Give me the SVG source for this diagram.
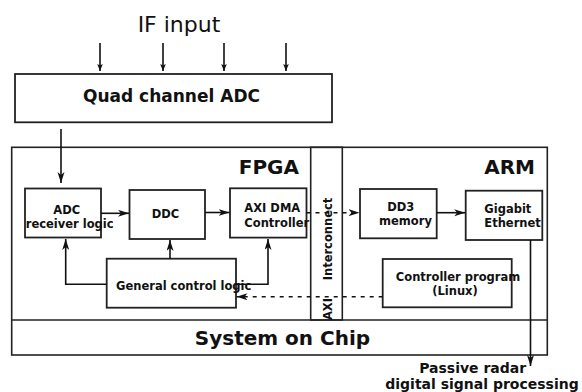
<svg xmlns="http://www.w3.org/2000/svg" width="582" height="392" viewBox="0 0 582 392">
<style>
.box{fill:#fff;stroke:#222;stroke-width:1.8}
.frame{fill:none;stroke:#222;stroke-width:1.6}
.t{font-family:"DejaVu Sans",Verdana,sans-serif;font-weight:bold;fill:#111}
.lbl{font-size:11.5px}
.ln{fill:none;stroke:#111;stroke-width:1.6}
.dash{stroke-dasharray:4 5}
</style>
<defs>
<marker id="ah" markerUnits="userSpaceOnUse" markerWidth="12" markerHeight="8" refX="11" refY="3.5" orient="auto">
<path d="M0,0 L11,3.5 L0,7 L3,3.5 Z" fill="#111"/>
</marker>
<marker id="ahs" markerUnits="userSpaceOnUse" markerWidth="8" markerHeight="8" refX="7" refY="2.8" orient="auto">
<path d="M0,0 L7,2.8 L0,5.6 L1.5,2.8 Z" fill="#111"/>
</marker>
</defs>
<rect width="582" height="392" fill="#fff"/>

<text x="179" y="32" font-family="DejaVu Sans,Verdana,sans-serif" font-size="22" text-anchor="middle" fill="#111">IF input</text>

<g id="soc">
<rect class="frame" x="11.7" y="147.3" width="535.6" height="207.7"/>
<line class="frame" x1="11.7" y1="320" x2="547.3" y2="320"/>
<text class="t" x="282.5" y="345" font-size="20" text-anchor="middle">System on Chip</text>
<text class="t" x="299" y="174" font-size="20" text-anchor="end">FPGA</text>
<text class="t" x="535" y="174" font-size="20" text-anchor="end">ARM</text>
</g>

<g id="axi">
<rect class="frame" x="310.7" y="147.3" width="31.6" height="172.7"/>
<text class="t lbl" transform="translate(331.5,239) rotate(-90)" text-anchor="middle">Interconnect</text>
<text class="t lbl" transform="translate(331.5,298) rotate(-90)" text-anchor="end">AXI</text>
</g>

<g id="quad">
<rect class="box" x="15" y="74" width="317" height="48.3"/>
<text class="t" x="171.5" y="102" font-size="17" text-anchor="middle">Quad channel ADC</text>
</g>

<g id="adcrx">
<rect class="box" x="25" y="188.5" width="76" height="49"/>
<text class="t lbl" x="66.7" y="214.3" text-anchor="middle">ADC</text>
<text class="t lbl" x="69.7" y="228.3" text-anchor="middle">receiver logic</text>
</g>

<g id="ddc">
<rect class="box" x="129.5" y="190" width="75.5" height="49"/>
<text class="t lbl" x="165.5" y="218.3" text-anchor="middle">DDC</text>
</g>

<g id="axidma">
<rect class="box" x="230" y="188.3" width="76.5" height="49.3"/>
<text class="t lbl" x="244.3" y="212.3">AXI DMA</text>
<text class="t lbl" x="244.3" y="226.7">Controller</text>
</g>

<g id="general">
<rect class="box" x="106.7" y="258.7" width="129.3" height="49"/>
<text class="t lbl" x="116" y="290">General control logic</text>
</g>

<g id="dd3">
<rect class="box" x="360" y="189" width="76.7" height="49.3"/>
<text class="t lbl" x="400.8" y="211" text-anchor="middle">DD3</text>
<text class="t lbl" x="405.5" y="225" text-anchor="middle">memory</text>
</g>

<g id="gige">
<rect class="box" x="465.7" y="190.7" width="76.6" height="49.3"/>
<text class="t lbl" x="484.3" y="213.3">Gigabit</text>
<text class="t lbl" x="484.3" y="226.7">Ethernet</text>
</g>

<g id="ctrlprog">
<rect class="box" x="382.7" y="259" width="129" height="48.3"/>
<text class="t lbl" x="458" y="281" text-anchor="middle">Controller program</text>
<text class="t lbl" x="455" y="295" text-anchor="middle">(Linux)</text>
</g>

<g id="dsp">
<text class="t" x="472.7" y="373" font-size="14" text-anchor="middle">Passive radar</text>
<text class="t" x="482" y="389" font-size="14" text-anchor="middle">digital signal processing</text>
</g>

<g id="connectors">
<line class="ln" x1="100" y1="43" x2="100" y2="71" marker-end="url(#ahs)"/>
<line class="ln" x1="163" y1="43" x2="163" y2="71" marker-end="url(#ahs)"/>
<line class="ln" x1="224" y1="43" x2="224" y2="71" marker-end="url(#ahs)"/>
<line class="ln" x1="286" y1="43" x2="286" y2="71" marker-end="url(#ahs)"/>
<line class="ln" x1="61" y1="129" x2="61" y2="183" marker-end="url(#ah)"/>
<line class="ln" x1="101" y1="213.3" x2="129" y2="213.3" marker-end="url(#ah)"/>
<line class="ln" x1="205" y1="212.5" x2="229.5" y2="212.5" marker-end="url(#ah)"/>
<polyline class="ln" points="106.7,284.3 65.7,284.3 65.7,239" marker-end="url(#ah)"/>
<line class="ln" x1="170" y1="258.7" x2="170" y2="240" marker-end="url(#ah)"/>
<polyline class="ln" points="236,284.3 268,284.3 268,239" marker-end="url(#ah)"/>
<line class="ln dash" x1="306.5" y1="212.7" x2="359.5" y2="212.7" marker-end="url(#ah)"/>
<line class="ln" x1="436.7" y1="212.7" x2="465.2" y2="212.7" marker-end="url(#ah)"/>
<line class="ln dash" x1="382.7" y1="296.7" x2="236.5" y2="296.7" marker-end="url(#ah)"/>
<line class="ln" x1="530.5" y1="240" x2="530.5" y2="366" marker-end="url(#ah)"/>
</g>
</svg>
